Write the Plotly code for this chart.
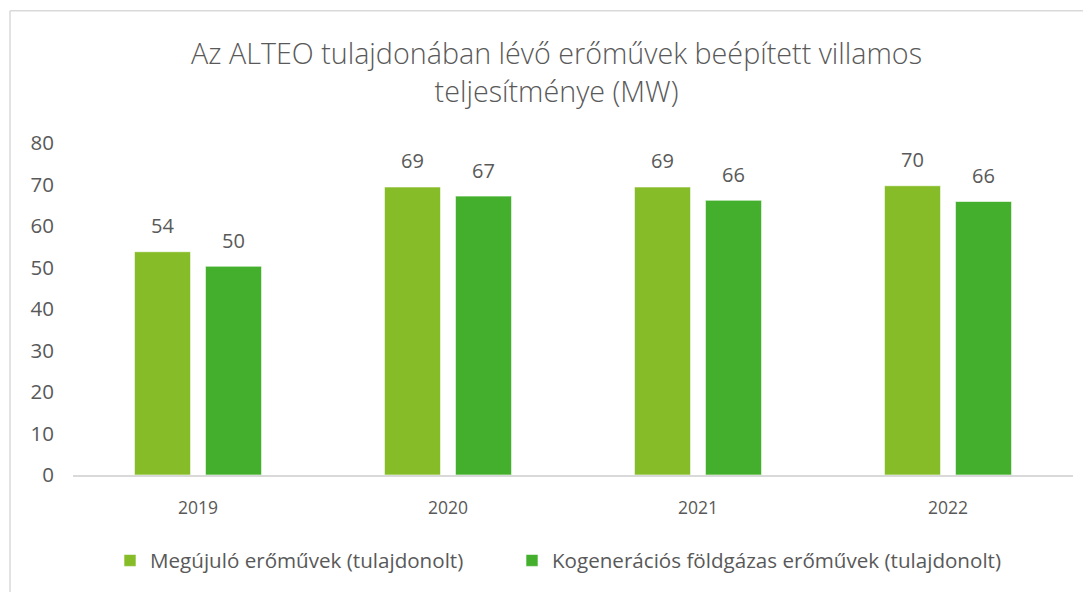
import plotly.graph_objects as go

years = ["2019", "2020", "2021", "2022"]
megujulo = [53.8, 69.4, 69.4, 69.7]
kogen = [50.3, 67.2, 66.2, 65.9]
series_names = ["Megújuló erőművek (tulajdonolt)", "Kogenerációs földgázas erőművek (tulajdonolt)"]
colors = ["#86BC28", "#43AF2C"]
title_text = "Az ALTEO tulajdonában lévő erőművek beépített villamos<br>teljesítménye (MW)"

FONT = "Open Sans"
TXT = "#595959"

xpos = list(range(len(years)))

fig = go.Figure()
for name, vals, col, lg in zip(series_names, [megujulo, kogen], colors, ["legend", "legend2"]):
    fig.add_trace(go.Bar(
        x=xpos, y=vals, name=name, legend=lg,
        marker=dict(color=col, line=dict(color="rgba(255,255,255,0.6)", width=1)),
    ))

annotations = []
for shift, vals in zip([-35.5, 35.5], [megujulo, kogen]):
    for xi, v in zip(xpos, vals):
        annotations.append(dict(
            x=xi, y=v, xref="x", yref="y", text=f"{v:.0f}", showarrow=False,
            xshift=shift, yshift=26, yanchor="middle",
            font=dict(family=FONT, size=20, color=TXT),
        ))

shapes = [
    dict(type="line", xref="paper", yref="paper", x0=-0.063, x1=-0.063, y0=-0.5, y1=1.398,
         line=dict(color="#D9D9D9", width=1.5)),
    dict(type="line", xref="paper", yref="paper", x0=-0.063, x1=1.1, y0=1.398, y1=1.398,
         line=dict(color="#D9D9D9", width=1.5)),
]

legend_style = dict(orientation="h", xanchor="left", y=-0.2575, yanchor="middle",
                    font=dict(family=FONT, size=20.6, color=TXT), itemwidth=30)

fig.update_layout(
    width=1083, height=584,
    margin=dict(l=65, r=18, t=135, b=115),
    paper_bgcolor="white", plot_bgcolor="white",
    barmode="group", bargap=0.432, bargroupgap=0.21,
    title=dict(text=title_text, x=0.5065, xanchor="center", xref="container",
               y=0.9033, yanchor="middle", yref="container",
               font=dict(family=FONT, size=28.7, color=TXT, weight=300)),
    font=dict(family=FONT, color=TXT, size=16),
    showlegend=True,
    legend=dict(x=0.037, **legend_style),
    legend2=dict(x=0.439, **legend_style),
    annotations=annotations,
    shapes=shapes,
)
fig.update_xaxes(range=[-0.5, len(years) - 0.5], tickvals=xpos, ticktext=years,
                 showgrid=False, zeroline=False, showline=True, linecolor="#D9D9D9", linewidth=1.5,
                 ticks="outside", ticklen=16, tickcolor="rgba(0,0,0,0)",
                 tickfont=dict(family=FONT, size=17.5, color=TXT))
fig.update_yaxes(range=[0, 80], dtick=10, showgrid=False, zeroline=False, showline=False,
                 ticks="outside", ticklen=14, tickcolor="rgba(0,0,0,0)",
                 tickfont=dict(family=FONT, size=20.5, color=TXT))

fig.write_html("out.html")
